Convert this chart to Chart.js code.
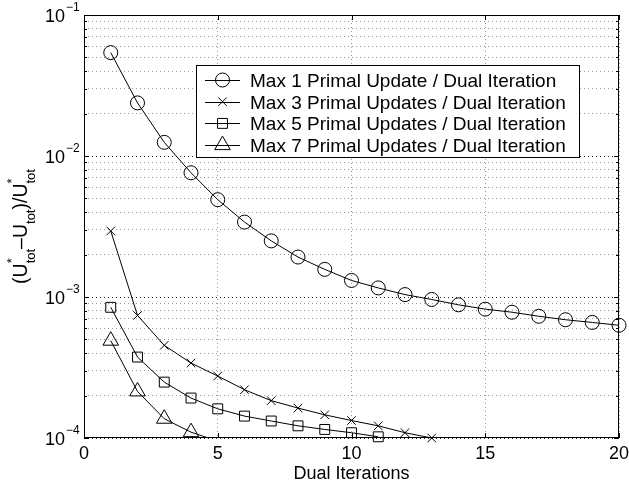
<!DOCTYPE html>
<html>
<head>
<meta charset="utf-8">
<script src="https://cdn.jsdelivr.net/npm/chart.js@4.4.1/dist/chart.umd.min.js"></script>
<style>
  html, body { margin: 0; padding: 0; background: #fff; }
  #wrap { width: 629px; height: 487px; }
</style>
</head>
<body>
<div id="wrap"><canvas id="chart" width="629" height="487"></canvas></div>
<script>
// values
const dualIterations = [1, 2, 3, 4, 5, 6, 7, 8, 9, 10, 11, 12, 13, 14, 15, 16, 17, 18, 19, 20];
const maxOneUpdate = [0.0541, 0.0238, 0.0125, 0.0076, 0.0049, 0.0034, 0.0025, 0.00192, 0.00157, 0.00131,
  0.00116, 0.00104, 0.00096, 0.00088, 0.00082, 0.00078, 0.00073, 0.00069, 0.00066, 0.00063];
const maxThreeUpdates = [0.00294, 0.00074, 0.000454, 0.00034, 0.000275, 0.00022, 0.000184, 0.000163,
  0.000146, 0.000133, 0.000122, 0.000109, 0.0001];
const maxFiveUpdates = [0.000845, 0.000375, 0.000249, 0.000192, 0.000161, 0.000143, 0.000132, 0.000122,
  0.000115, 0.000109, 0.000102];
const maxSevenUpdates = [0.00049, 0.000214, 0.000137, 0.00011, 0.000095];

const seriesLabels = [
  "Max 1 Primal Update / Dual Iteration",
  "Max 3 Primal Updates / Dual Iteration",
  "Max 5 Primal Updates / Dual Iteration",
  "Max 7 Primal Updates / Dual Iteration"
];
const xTickValues = [0, 5, 10, 15, 20];
const yDecades = [1e-4, 1e-3, 1e-2, 1e-1];
const yDecadeLabels = ["\u22124", "\u22123", "\u22122", "\u22121"];
const xTitle = "Dual Iterations";

const FONT = "'Liberation Sans', Arial, Helvetica, sans-serif";

// minor grid positions 1..9 x each decade
const yGridValues = [];
yDecades.forEach((d, i) => {
  if (i === yDecades.length - 1) { yGridValues.push(d); return; }
  for (let m = 1; m <= 9; m++) yGridValues.push(m * d);
});
const isDecade = (v) => yDecades.some((d) => Math.abs(v / d - 1) < 1e-6);

function toPoints(values) {
  return values.map((v, i) => ({ x: dualIterations[i], y: v }));
}

// marker shapes, same geometry as chart.js pointStyles
function drawMarker(ctx, style, x, y, r) {
  ctx.beginPath();
  if (style === "circle") {
    ctx.arc(x, y, r, 0, Math.PI * 2);
  } else if (style === "crossRot") {
    const o = Math.SQRT1_2 * r;
    ctx.moveTo(x - o, y - o); ctx.lineTo(x + o, y + o);
    ctx.moveTo(x - o, y + o); ctx.lineTo(x + o, y - o);
  } else if (style === "rect") {
    const s = Math.SQRT1_2 * r;
    ctx.rect(x - s, y - s, 2 * s, 2 * s);
  } else if (style === "triangle") {
    for (let k = 0; k < 3; k++) {
      const a = k * 2 * Math.PI / 3;
      const px = x + Math.sin(a) * r, py = y - Math.cos(a) * r;
      if (k === 0) ctx.moveTo(px, py); else ctx.lineTo(px, py);
    }
    ctx.closePath();
  }
  ctx.stroke();
}

const datasets = [
  { label: seriesLabels[0], data: toPoints(maxOneUpdate), pointStyle: "circle", pointRadius: 7,
    clip: { left: 10, top: 10, right: 10, bottom: 10 } },
  { label: seriesLabels[1], data: toPoints(maxThreeUpdates), pointStyle: "crossRot", pointRadius: 6,
    clip: { left: 10, top: 10, right: 10, bottom: 10 } },
  { label: seriesLabels[2], data: toPoints(maxFiveUpdates), pointStyle: "rect", pointRadius: 7,
    clip: { left: 10, top: 10, right: 10, bottom: 10 } },
  // last point lies below the axis: only its line segment shows
  { label: seriesLabels[3], data: toPoints(maxSevenUpdates), pointStyle: "triangle",
    pointRadius: (c) => (c.parsed && c.parsed.y < 1e-4 ? 0 : 9),
    clip: { left: 10, top: 10, right: 10, bottom: 0 } }
].map((ds) => Object.assign(ds, {
  borderColor: "#000",
  borderWidth: 1,
  pointBorderColor: "#000",
  pointBackgroundColor: "rgba(0,0,0,0)",
  pointBorderWidth: 1,
  pointHoverRadius: 0,
  tension: 0,
  fill: false
}));
const legendRadius = [7, 6, 7, 9];

const decorations = {
  id: "decorations",
  afterDraw(chart) {
    const ctx = chart.ctx;
    const area = chart.chartArea;
    const xs = chart.scales.x;
    const ys = chart.scales.y;
    ctx.save();

    // box
    ctx.strokeStyle = "#000";
    ctx.lineWidth = 1;
    ctx.strokeRect(area.left + 0.5, area.top + 0.5, area.right - area.left - 1, area.bottom - area.top - 1);

    // inward tick marks
    ctx.beginPath();
    yGridValues.forEach((v) => {
      const y = Math.round(ys.getPixelForValue(v)) + 0.5;
      const len = isDecade(v) ? 5 : 3;
      ctx.moveTo(area.left, y); ctx.lineTo(area.left + len, y);
      ctx.moveTo(area.right, y); ctx.lineTo(area.right - len, y);
    });
    xTickValues.forEach((v) => {
      const x = Math.round(xs.getPixelForValue(v)) + 0.5;
      ctx.moveTo(x, area.bottom); ctx.lineTo(x, area.bottom - 5);
      ctx.moveTo(x, area.top); ctx.lineTo(x, area.top + 5);
    });
    ctx.stroke();

    ctx.fillStyle = "#000";
    // y tick labels 10^n
    yDecades.forEach((d, i) => {
      const y = ys.getPixelForValue(d);
      ctx.font = "18px " + FONT;
      ctx.textAlign = "right";
      ctx.textBaseline = "alphabetic";
      ctx.fillText("10", 65, y + 7);
      ctx.font = "12px " + FONT;
      ctx.textAlign = "left";
      ctx.fillText(yDecadeLabels[i], 66, y - 4);
    });

    // x tick labels
    ctx.font = "18px " + FONT;
    ctx.textAlign = "center";
    ctx.textBaseline = "alphabetic";
    xTickValues.forEach((v) => {
      ctx.fillText(String(v), xs.getPixelForValue(v), area.bottom + 21);
    });
    // x title
    ctx.fillText(xTitle, (area.left + area.right) / 2, area.bottom + 41);

    // y title (U*_tot - U_tot)/U*_tot
    const big = "19.5px " + FONT;
    const small = "13px " + FONT;
    const parts = [
      { text: "(U" },
      { sup: "*", sub: "tot" },
      { text: "\u2013U" },
      { sub: "tot" },
      { text: ")/U" },
      { sup: "*", sub: "tot" }
    ];
    const widthOf = (p) => {
      if (p.text) { ctx.font = big; return ctx.measureText(p.text).width; }
      ctx.font = small;
      return Math.max(p.sup ? ctx.measureText(p.sup).width : 0, p.sub ? ctx.measureText(p.sub).width : 0);
    };
    const total = parts.reduce((s, p) => s + widthOf(p), 0);
    ctx.save();
    ctx.translate(27, (area.top + area.bottom) / 2);
    ctx.rotate(-Math.PI / 2);
    ctx.textAlign = "left";
    let cx = -total / 2;
    parts.forEach((p) => {
      const w = widthOf(p);
      if (p.text) {
        ctx.font = big;
        ctx.fillText(p.text, cx, 0);
      } else {
        ctx.font = small;
        if (p.sup) ctx.fillText(p.sup, cx, -11);
        if (p.sub) ctx.fillText(p.sub, cx, 8);
      }
      cx += w;
    });
    ctx.restore();

    // legend
    const lx = area.left + 112, ly = area.top + 50, lw = 383, lh = 92;
    ctx.fillStyle = "#fff";
    ctx.fillRect(lx, ly, lw, lh);
    ctx.strokeStyle = "#000";
    ctx.lineWidth = 1;
    ctx.strokeRect(lx + 0.5, ly + 0.5, lw, lh);
    ctx.fillStyle = "#000";
    ctx.font = "19px " + FONT;
    ctx.textAlign = "left";
    ctx.textBaseline = "alphabetic";
    seriesLabels.forEach((label, i) => {
      const rowY = ly + 15 + i * 21.7;
      ctx.beginPath();
      ctx.moveTo(lx + 9, Math.round(rowY) + 0.5);
      ctx.lineTo(lx + 44, Math.round(rowY) + 0.5);
      ctx.stroke();
      drawMarker(ctx, chart.data.datasets[i].pointStyle, lx + 26.5, rowY, legendRadius[i]);
      ctx.fillText(label, lx + 54, rowY + 7);
    });

    ctx.restore();
  }
};

new Chart(document.getElementById("chart"), {
  type: "line",
  data: { datasets: datasets },
  options: {
    responsive: false,
    animation: false,
    events: [],
    layout: { padding: { left: 84, right: 9, top: 15, bottom: 49 } },
    plugins: { legend: { display: false }, tooltip: { enabled: false } },
    scales: {
      x: {
        type: "linear",
        min: 0,
        max: 20,
        afterBuildTicks: (scale) => { scale.ticks = xTickValues.map((v) => ({ value: v })); },
        ticks: { display: false },
        grid: { drawTicks: false, color: "#9a9a9a", lineWidth: 1 },
        border: { display: false, dash: [1, 3] }
      },
      y: {
        type: "logarithmic",
        min: 1e-4,
        max: 1e-1,
        afterBuildTicks: (scale) => { scale.ticks = yGridValues.map((v) => ({ value: v })); },
        ticks: { display: false },
        grid: {
          drawTicks: false,
          lineWidth: 1,
          color: (c) => (c.tick && isDecade(c.tick.value) ? "#222" : "#9a9a9a")
        },
        border: { display: false, dash: [1, 3] }
      }
    }
  },
  plugins: [decorations]
});
</script>
</body>
</html>
